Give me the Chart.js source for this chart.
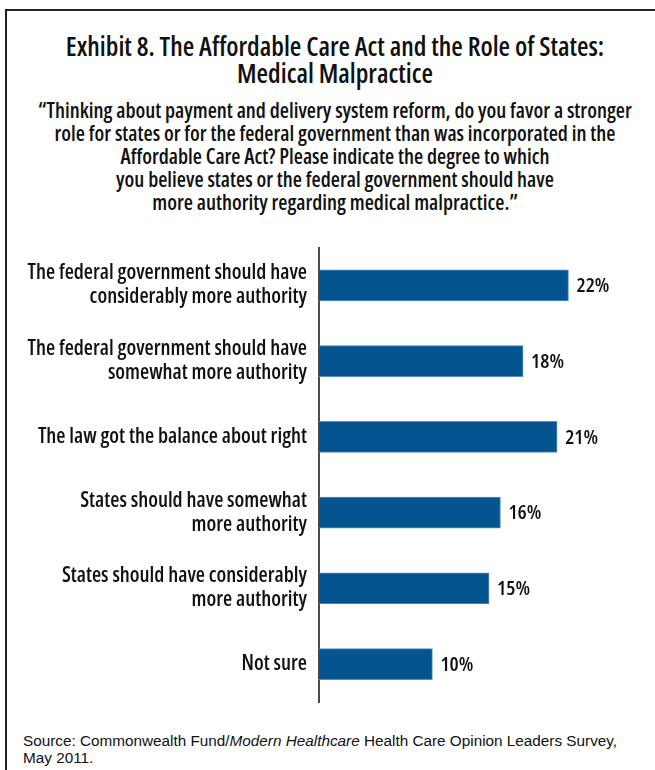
<!DOCTYPE html>
<html lang="en">
<head>
    <meta charset="UTF-8">
    <title>Exhibit 8 - Medical Malpractice</title>
    <style>
        html, body {
            margin: 0;
            padding: 0;
            background: #fff;
            width: 655px;
            height: 770px;
            overflow: hidden;
        }
        .frame {
            position: absolute;
            left: 5px;
            top: 9px;
            width: 720px;
            height: 800px;
            border-left: 2px solid #222;
            border-top: 2px solid #222;
        }
        .title, .question {
            position: absolute;
            left: 8px;
            width: 654px;
            text-align: center;
            color: #111;
            font-family: 'Open Sans', sans-serif;
            font-stretch: condensed;
            font-weight: 600;
            white-space: nowrap;
        }
        .title {
            top: 32.8px;
            font-size: 26.4px;
            line-height: 27px;
        }
        .question {
            top: 98.9px;
            font-size: 21px;
            line-height: 23px;
        }
        .chart-box {
            position: absolute;
            left: 0;
            top: 240px;
            width: 655px;
            height: 480px;
        }
        .source {
            position: absolute;
            left: 23px;
            top: 732px;
            font-family: 'Liberation Sans', Arial, sans-serif;
            font-size: 15.3px;
            line-height: 17px;
            color: #111;
        }
    </style>
    <script src="https://cdn.jsdelivr.net/npm/chart.js"></script>
</head>
<body>
    <div class="frame"></div>
    <div class="title">Exhibit 8. The Affordable Care Act and the Role of States:<br>Medical Malpractice</div>
    <div class="question">
        “Thinking about payment and delivery system reform, do you favor a stronger<br>
        role for states or for the federal government than was incorporated in the<br>
        Affordable Care Act? Please indicate the degree to which<br>
        you believe states or the federal government should have<br>
        more authority regarding medical malpractice.”
    </div>

    <div class="chart-box">
        <canvas id="malpracticeChart" width="655" height="480"></canvas>
    </div>

    <div class="source">Source: Commonwealth Fund/<i>Modern Healthcare</i> Health Care Opinion Leaders Survey,<br>May 2011.</div>

    <script>
        // answer options, top to bottom
        const categories = [
            ['The federal government should have', 'considerably more authority'],
            ['The federal government should have', 'somewhat more authority'],
            'The law got the balance about right',
            ['States should have somewhat', 'more authority'],
            ['States should have considerably', 'more authority'],
            'Not sure'
        ];
        // share of respondents, percent
        const percentages = [22, 18, 21, 16, 15, 10];

        const labelFont = "'Open Sans', sans-serif";

        // writes "22%" etc. just past the end of each bar
        const valueLabels = {
            id: 'valueLabels',
            afterDatasetsDraw(chart) {
                const ctx = chart.ctx;
                const meta = chart.getDatasetMeta(0);
                ctx.save();
                ctx.font = 'condensed 600 20.5px ' + labelFont;
                ctx.fillStyle = '#111';
                ctx.textAlign = 'left';
                ctx.textBaseline = 'middle';
                meta.data.forEach((bar, i) => {
                    ctx.fillText(chart.data.datasets[0].data[i] + '%', bar.x + 8, bar.y + 1);
                });
                ctx.restore();
            }
        };

        new Chart(document.getElementById('malpracticeChart'), {
            type: 'bar',
            data: {
                labels: categories,
                datasets: [{
                    data: percentages,
                    backgroundColor: '#03548f',
                    borderColor: '#5a90c6',
                    borderWidth: 1,
                    borderSkipped: 'left',
                    barThickness: 31
                }]
            },
            options: {
                indexAxis: 'y',
                responsive: false,
                animation: false,
                layout: {
                    padding: { left: 0, right: 18.5, top: 7.5, bottom: 18 }
                },
                plugins: {
                    legend: { display: false },
                    tooltip: { enabled: false }
                },
                scales: {
                    x: {
                        display: false,
                        min: 0,
                        max: 28
                    },
                    y: {
                        afterFit(scale) {
                            scale.width = 319;
                            // labels sit inside their bands, no extra room needed
                            scale.paddingTop = 0;
                            scale.paddingBottom = 0;
                        },
                        grid: { display: false, drawTicks: false },
                        border: { display: true, color: '#4a4a4a', width: 2 },
                        ticks: {
                            padding: 12,
                            color: '#111',
                            // "condensed" goes into the canvas font string to pick the narrow face
                            font: { family: labelFont, size: 21, weight: 'condensed 600', lineHeight: 1.143 }
                        }
                    }
                }
            },
            plugins: [valueLabels]
        });
    </script>
</body>
</html>
